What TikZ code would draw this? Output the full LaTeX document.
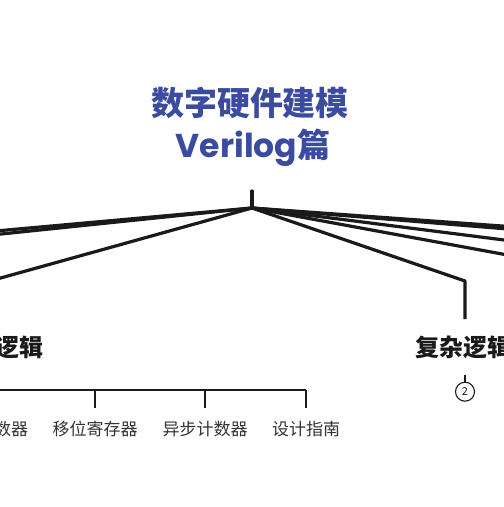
\documentclass[tikz,border=0pt]{standalone}
\usepackage{fontspec}
\setmainfont{Noto Sans CJK SC}
\newfontfamily\cjk{Noto Sans CJK SC}
\newfontfamily\pop{Poppins}
\definecolor{titleblue}{RGB}{58,75,160}
\definecolor{ink}{RGB}{26,26,26}
\definecolor{childgray}{RGB}{51,51,51}
\begin{document}
\begin{tikzpicture}[x=1pt,y=-1pt,
  branch/.style={draw=ink,line width=3.2pt,line join=round},
  bracket/.style={draw=ink,line width=2.6pt},
  titletext/.style={inner sep=0pt,anchor=base,text=titleblue,font=\fontsize{33}{33}\selectfont\bfseries},
  parenttext/.style={inner sep=0pt,anchor=base,text=ink,font=\fontsize{24}{24}\selectfont\bfseries},
  childtext/.style={inner sep=0pt,anchor=base,text=childgray,font=\fontsize{17}{17}\selectfont},
  numcircle/.style={circle,draw=ink,line width=1.1pt,minimum size=19pt,inner sep=0pt,text=ink,font=\fontsize{11}{11}\selectfont}]
\useasboundingbox (0,0) rectangle (504,507);
\clip (0,0) rectangle (504,507);
\fill[white] (0,0) rectangle (504,507);
% title
\node[titletext] (t1) at (250,115) {数字硬件建模};
\node[titletext] (t2) at (253,157) {{\pop\bfseries Verilog}篇};
% hub
\coordinate (stemtop) at (252,191);
\coordinate (hub) at (252,208);
\draw[branch,line cap=round] (stemtop) -- (hub);
% off-picture branches
\coordinate (L1) at (-20,232.4);
\coordinate (L2) at (-20,236.2);
\coordinate (R1) at (520,227.3);
\coordinate (R2) at (520,230.0);
\coordinate (R3) at (520,242.0);
\coordinate (R4) at (520,257.3);
\foreach \e in {L1,L2,R1,R2,R3,R4} \draw[branch] (hub) -- (\e);
% left parent: sequential logic
\node[parenttext] (seq) at (-4,356) {时序逻辑};
\coordinate (seqcorner) at (-3,279);
\coordinate (seqtop) at (-3,318);
\draw[branch] (hub) -- (seqcorner) -- (seqtop);
% right parent: complex logic
\node[parenttext] (cpx) at (463,356) {复杂逻辑};
\coordinate (cpxcorner) at (465,281);
\coordinate (cpxtop) at (465,319);
\draw[branch] (hub) -- (cpxcorner) -- (cpxtop);
% collapsed children marker
\node[numcircle] (cnt) at (465,391.7) {2};
\coordinate (cpxbot) at (465,375);
\draw[ink,line width=1.6pt] (cpxbot) -- (cnt.north);
% children of sequential logic
\node[childtext] (c1) at (2.5,435) {计数器};
\node[childtext] (c2) at (95,435) {移位寄存器};
\node[childtext] (c3) at (205,435) {异步计数器};
\node[childtext] (c4) at (306,435) {设计指南};
\coordinate (bl) at (-3,390);
\coordinate (br) at (306,390);
\coordinate (seqbot) at (-3,362);
\draw[bracket] (seqbot) -- (bl) -- (br);
\draw[bracket] (bl) -- (-3,408);
\draw[bracket] (95,390) -- (95,408);
\draw[bracket] (205,390) -- (205,408);
\draw[bracket] (br) -- (306,408);
\end{tikzpicture}
\end{document}
